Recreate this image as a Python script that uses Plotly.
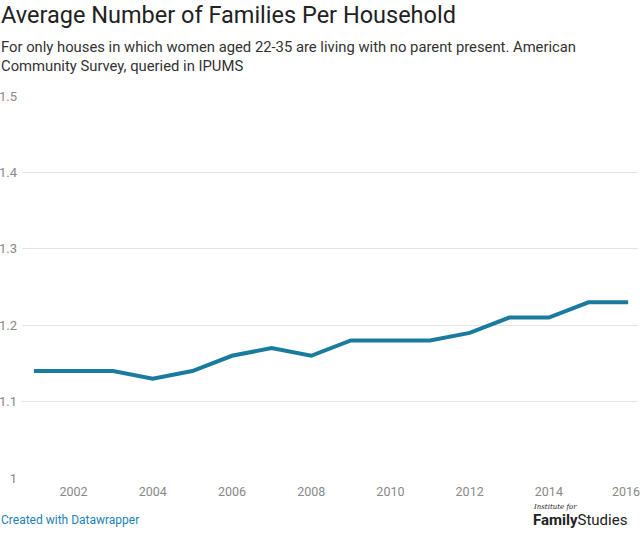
import plotly.graph_objects as go

years = [2001, 2002, 2003, 2004, 2005, 2006, 2007, 2008, 2009, 2010, 2011, 2012, 2013, 2014, 2015, 2016]
families = [1.14, 1.14, 1.14, 1.13, 1.14, 1.16, 1.17, 1.16, 1.18, 1.18, 1.18, 1.19, 1.21, 1.21, 1.23, 1.23]
x_ticks = [2002, 2004, 2006, 2008, 2010, 2012, 2014, 2016]
y_ticks = [1, 1.1, 1.2, 1.3, 1.4, 1.5]
y_tick_labels = ["1", "1.1", "1.2", "1.3", "1.4", "1.5"]

title = "Average Number of Families Per Household"
subtitle = ("For only houses in which women aged 22-35 are living with no parent present. American<br>"
            "Community Survey, queried in IPUMS")

fig = go.Figure()
fig.add_trace(go.Scatter(
    x=years, y=families, mode="lines",
    line=dict(color="#1a7b9e", width=4),
    hoverinfo="x+y", showlegend=False,
))

# all x tick labels except the last come from the axis; the last one is pulled
# slightly left (as in the original) so it stays inside the page
tick_font = dict(size=12.5, color="#888")
L = 22
fig.update_layout(
    width=640, height=533,
    margin=dict(l=L, r=2, t=96, b=55, autoexpand=False),
    paper_bgcolor="white", plot_bgcolor="white",
    font=dict(family="Roboto, sans-serif", color="#333"),
    xaxis=dict(
        range=[2000.70, 2016.25], tickvals=x_ticks[:-1], ticktext=[str(t) for t in x_ticks[:-1]],
        showgrid=False, zeroline=False, showline=False, ticks="",
        ticklabelstandoff=4, automargin=False,
        tickfont=tick_font,
    ),
    yaxis=dict(
        range=[1, 1.5], tickvals=y_ticks, ticktext=y_tick_labels,
        showgrid=True, gridcolor="#e3e3e3", gridwidth=1, zeroline=False,
        showline=False, ticks="", ticklabelstandoff=4, automargin=False,
        tickfont=dict(size=13, color="#888"),
    ),
    annotations=[
        dict(text=str(x_ticks[-1]), x=x_ticks[-1], y=0, xref="x", yref="paper",
             xanchor="center", yanchor="top", showarrow=False, font=tick_font,
             xshift=-2, yshift=-4),
        dict(text=title, x=0, y=1, xref="paper", yref="paper", xanchor="left", yanchor="top",
             showarrow=False, font=dict(size=23.5, color="#222"), xshift=-L - 1, yshift=96 + 1),
        dict(text=subtitle, x=0, y=1, xref="paper", yref="paper", xanchor="left", yanchor="top",
             showarrow=False, align="left", font=dict(size=14.8, color="#333"), xshift=-L - 1, yshift=96 - 36),
        dict(text="Created with Datawrapper", x=0, y=0, xref="paper", yref="paper", xanchor="left", yanchor="top",
             showarrow=False, font=dict(size=12, color="#1d81b8"), xshift=-L - 1, yshift=-33),
        dict(text="<i>Institute for</i>", x=1, y=0, xref="paper", yref="paper", xanchor="left", yanchor="top",
             showarrow=False, font=dict(size=7, color="#222", family="DejaVu Serif"), xshift=-107, yshift=-23),
        dict(text="<b>Family</b>Studies", x=1, y=0, xref="paper", yref="paper", xanchor="left", yanchor="top",
             showarrow=False, font=dict(size=15, color="#222"), xshift=-107, yshift=-31),
    ],
)

fig.write_html("out.html", config={"displayModeBar": False},
               post_script="document.body.style.margin='0';")
